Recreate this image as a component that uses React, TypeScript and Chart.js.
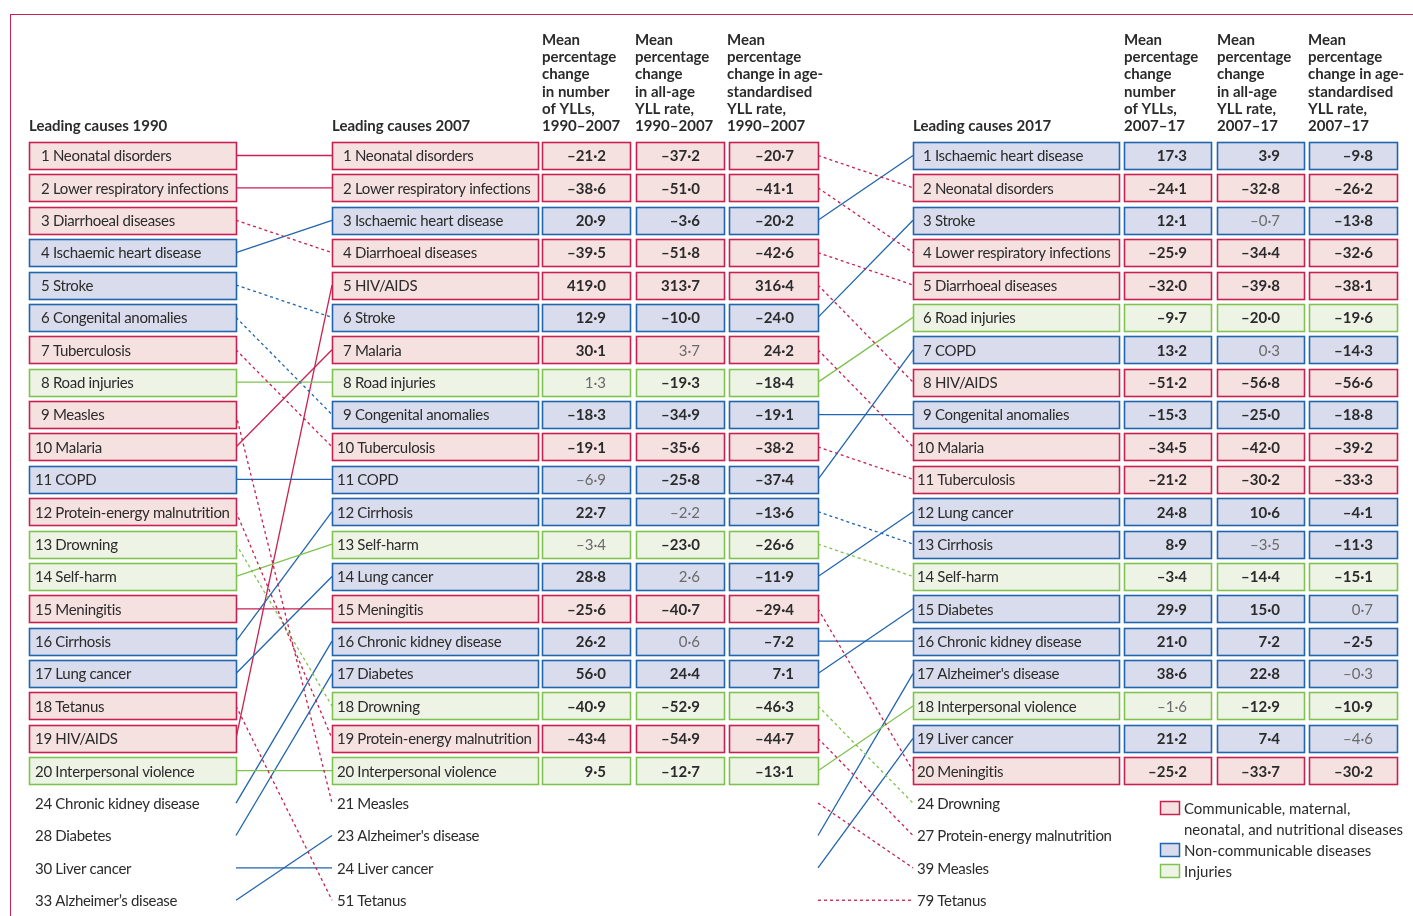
import React, { useEffect, useRef } from 'react';
import { Chart, registerables } from 'chart.js';
Chart.register(...registerables);

type Cat = 'C' | 'N' | 'I';

// ---------------- DATA ----------------
const causes1990 = [
  'Neonatal disorders', 'Lower respiratory infections', 'Diarrhoeal diseases', 'Ischaemic heart disease',
  'Stroke', 'Congenital anomalies', 'Tuberculosis', 'Road injuries', 'Measles', 'Malaria', 'COPD',
  'Protein-energy malnutrition', 'Drowning', 'Self-harm', 'Meningitis', 'Cirrhosis', 'Lung cancer',
  'Tetanus', 'HIV/AIDS', 'Interpersonal violence', 'Chronic kidney disease', 'Diabetes', 'Liver cancer',
  'Alzheimer’s disease',
];
const ranks1990 = [1, 2, 3, 4, 5, 6, 7, 8, 9, 10, 11, 12, 13, 14, 15, 16, 17, 18, 19, 20, 24, 28, 30, 33];
const cats1990: Cat[] = ['C', 'C', 'C', 'N', 'N', 'N', 'C', 'I', 'C', 'C', 'N', 'C', 'I', 'I', 'C', 'N', 'N', 'C', 'C', 'I', 'N', 'N', 'N', 'N'];
// position (row) in the 2007 list that each 1990 cause moves to
const links1990to2007 = [1, 2, 4, 3, 6, 9, 10, 8, 21, 7, 11, 19, 18, 13, 15, 12, 14, 24, 5, 20, 16, 17, 23, 22];

const causes2007 = [
  'Neonatal disorders', 'Lower respiratory infections', 'Ischaemic heart disease', 'Diarrhoeal diseases',
  'HIV/AIDS', 'Stroke', 'Malaria', 'Road injuries', 'Congenital anomalies', 'Tuberculosis', 'COPD',
  'Cirrhosis', 'Self-harm', 'Lung cancer', 'Meningitis', 'Chronic kidney disease', 'Diabetes', 'Drowning',
  'Protein-energy malnutrition', 'Interpersonal violence', 'Measles', "Alzheimer's disease", 'Liver cancer',
  'Tetanus',
];
const ranks2007 = [1, 2, 3, 4, 5, 6, 7, 8, 9, 10, 11, 12, 13, 14, 15, 16, 17, 18, 19, 20, 21, 23, 24, 51];
const cats2007: Cat[] = ['C', 'C', 'N', 'C', 'C', 'N', 'C', 'I', 'N', 'C', 'N', 'N', 'I', 'N', 'C', 'N', 'N', 'I', 'C', 'I', 'C', 'N', 'N', 'C'];
const links2007to2017 = [2, 4, 1, 5, 8, 3, 10, 6, 9, 11, 7, 13, 14, 12, 20, 16, 15, 21, 22, 18, 23, 17, 19, 24];

const ylls1990to2007 = [-21.2, -38.6, 20.9, -39.5, 419.0, 12.9, 30.1, 1.3, -18.3, -19.1, -6.9, 22.7, -3.4, 28.8, -25.6, 26.2, 56.0, -40.9, -43.4, 9.5];
const allAge1990to2007 = [-37.2, -51.0, -3.6, -51.8, 313.7, -10.0, 3.7, -19.3, -34.9, -35.6, -25.8, -2.2, -23.0, 2.6, -40.7, 0.6, 24.4, -52.9, -54.9, -12.7];
const ageStd1990to2007 = [-20.7, -41.1, -20.2, -42.6, 316.4, -24.0, 24.2, -18.4, -19.1, -38.2, -37.4, -13.6, -26.6, -11.9, -29.4, -7.2, 7.1, -46.3, -44.7, -13.1];
const sigYlls1990to2007 = [1, 1, 1, 1, 1, 1, 1, 0, 1, 1, 0, 1, 0, 1, 1, 1, 1, 1, 1, 1];
const sigAllAge1990to2007 = [1, 1, 1, 1, 1, 1, 0, 1, 1, 1, 1, 0, 1, 0, 1, 0, 1, 1, 1, 1];
const sigAgeStd1990to2007 = [1, 1, 1, 1, 1, 1, 1, 1, 1, 1, 1, 1, 1, 1, 1, 1, 1, 1, 1, 1];

const causes2017 = [
  'Ischaemic heart disease', 'Neonatal disorders', 'Stroke', 'Lower respiratory infections',
  'Diarrhoeal diseases', 'Road injuries', 'COPD', 'HIV/AIDS', 'Congenital anomalies', 'Malaria',
  'Tuberculosis', 'Lung cancer', 'Cirrhosis', 'Self-harm', 'Diabetes', 'Chronic kidney disease',
  "Alzheimer's disease", 'Interpersonal violence', 'Liver cancer', 'Meningitis', 'Drowning',
  'Protein-energy malnutrition', 'Measles', 'Tetanus',
];
const ranks2017 = [1, 2, 3, 4, 5, 6, 7, 8, 9, 10, 11, 12, 13, 14, 15, 16, 17, 18, 19, 20, 24, 27, 39, 79];
const cats2017: Cat[] = ['N', 'C', 'N', 'C', 'C', 'I', 'N', 'C', 'N', 'C', 'C', 'N', 'N', 'I', 'N', 'N', 'N', 'I', 'N', 'C', 'I', 'C', 'C', 'C'];

const ylls2007to2017 = [17.3, -24.1, 12.1, -25.9, -32.0, -9.7, 13.2, -51.2, -15.3, -34.5, -21.2, 24.8, 8.9, -3.4, 29.9, 21.0, 38.6, -1.6, 21.2, -25.2];
const allAge2007to2017 = [3.9, -32.8, -0.7, -34.4, -39.8, -20.0, 0.3, -56.8, -25.0, -42.0, -30.2, 10.6, -3.5, -14.4, 15.0, 7.2, 22.8, -12.9, 7.4, -33.7];
const ageStd2007to2017 = [-9.8, -26.2, -13.8, -32.6, -38.1, -19.6, -14.3, -56.6, -18.8, -39.2, -33.3, -4.1, -11.3, -15.1, 0.7, -2.5, -0.3, -10.9, -4.6, -30.2];
const sigYlls2007to2017 = [1, 1, 1, 1, 1, 1, 1, 1, 1, 1, 1, 1, 1, 1, 1, 1, 1, 0, 1, 1];
const sigAllAge2007to2017 = [1, 1, 0, 1, 1, 1, 0, 1, 1, 1, 1, 1, 0, 1, 1, 1, 1, 1, 1, 1];
const sigAgeStd2007to2017 = [1, 1, 1, 1, 1, 1, 1, 1, 1, 1, 1, 1, 1, 1, 0, 1, 0, 1, 0, 1];

const headerLeft1990 = 'Leading causes 1990';
const headerLeft2007 = 'Leading causes 2007';
const headerLeft2017 = 'Leading causes 2017';
const headers1990to2007 = [
  ['Mean', 'percentage', 'change', 'in number', 'of YLLs,', '1990–2007'],
  ['Mean', 'percentage', 'change', 'in all-age', 'YLL rate,', '1990–2007'],
  ['Mean', 'percentage', 'change in age-', 'standardised', 'YLL rate,', '1990–2007'],
];
const headers2007to2017 = [
  ['Mean', 'percentage', 'change', 'number', 'of YLLs,', '2007–17'],
  ['Mean', 'percentage', 'change', 'in all-age', 'YLL rate,', '2007–17'],
  ['Mean', 'percentage', 'change in age-', 'standardised', 'YLL rate,', '2007–17'],
];
const legendLabels = [
  ['Communicable, maternal,', 'neonatal, and nutritional diseases'],
  ['Non-communicable diseases'],
  ['Injuries'],
];
const legendCats: Cat[] = ['C', 'N', 'I'];

// ---------------- STYLE ----------------
const FONT = 'Lato, "Noto Sans", sans-serif';
const BORDER: Record<Cat, string> = { C: '#c8214f', N: '#2065ad', I: '#80c250' };
const FILL: Record<Cat, string> = { C: '#f6e1e1', N: '#d9dcec', I: '#edf4e6' };
const FRAME = '#c8214f';
const TEXT = '#2b2b2b';
const TEXT_NS = '#6a6a6a';

const W = 1413;
const H = 916;
const ROW1 = 155.5; // pixel centre of first row
const ROWH = 32.38; // pixel per row
const BOXH = 27;
const Y_MIN = 1 - ROW1 / ROWH;
const Y_MAX = Y_MIN + H / ROWH;

const colA = { left: 29, right: 236, pad: 6 };
const colB = { left: 332, right: 538, pad: 5 };
const colC = { left: 913, right: 1119, pad: 4 };
const numB = [[542, 630], [636, 724], [729, 818]];
const numC = [[1124, 1211], [1217, 1304], [1309, 1397]];
const hdrB = [542, 635, 727];
const hdrC = [1124, 1217, 1308];

function fmt(v: number) {
  return (v < 0 ? '–' : '') + Math.abs(v).toFixed(1).replace('.', '·');
}

function buildLinks() {
  const ds: any[] = [];
  causes1990.forEach((_, i) => {
    const to = links1990to2007[i];
    const down = ranks2007[to - 1] > ranks1990[i];
    ds.push({
      data: [{ x: colA.right, y: i + 1 }, { x: colB.left, y: to }],
      borderColor: BORDER[cats1990[i]],
      borderWidth: 1.3,
      borderDash: down ? [3, 3] : [],
      pointRadius: 0,
      fill: false,
    });
  });
  causes2007.forEach((_, i) => {
    const to = links2007to2017[i];
    const down = ranks2017[to - 1] > ranks2007[i];
    ds.push({
      data: [{ x: numB[2][1], y: i + 1 }, { x: colC.left, y: to }],
      borderColor: BORDER[cats2007[i]],
      borderWidth: 1.3,
      borderDash: down ? [3, 3] : [],
      pointRadius: 0,
      fill: false,
    });
  });
  return ds;
}

const tablePlugin = {
  id: 'rankTable',
  afterDatasetsDraw(chart: any) {
    const ctx: any = chart.ctx;
    const xs = chart.scales.x;
    const ys = chart.scales.y;
    const px = (v: number) => xs.getPixelForValue(v);
    const py = (v: number) => ys.getPixelForValue(v);
    ctx.save();

    // frame
    ctx.strokeStyle = FRAME;
    ctx.lineWidth = 1;
    ctx.strokeRect(10.5, 14.5, W + 20, H + 20);

    const box = (l: number, r: number, yc: number, cat: Cat) => {
      const x0 = Math.round(px(l)) + 0.5;
      const x1 = Math.round(px(r)) + 0.5;
      const y0 = Math.round(yc - BOXH / 2) + 0.5;
      ctx.fillStyle = FILL[cat];
      ctx.fillRect(x0, y0, x1 - x0, BOXH);
      ctx.strokeStyle = BORDER[cat];
      ctx.lineWidth = 1.6;
      ctx.strokeRect(x0, y0, x1 - x0, BOXH);
    };

    const label = (col: { left: number; pad: number }, yc: number, rank: number, name: string) => {
      ctx.font = `15px ${FONT}`;
      ctx.letterSpacing = '-0.3px';
      ctx.fillStyle = TEXT;
      ctx.textBaseline = 'middle';
      ctx.textAlign = 'left';
      const sx = px(col.left) + col.pad + (rank >= 10 ? 0 : 6);
      ctx.fillText(`${rank} ${name}`, sx, yc + 1);
      ctx.letterSpacing = '0px';
    };

    const num = (r: number, yc: number, v: number, sig: number) => {
      ctx.font = sig ? `bold 15px ${FONT}` : `15px ${FONT}`;
      ctx.fillStyle = sig ? TEXT : TEXT_NS;
      ctx.textBaseline = 'middle';
      ctx.textAlign = 'right';
      ctx.fillText(fmt(v), px(r) - 24, yc + 1);
    };

    // 1990 list
    causes1990.forEach((name, i) => {
      const yc = py(i + 1);
      if (ranks1990[i] <= 20) box(colA.left, colA.right, yc, cats1990[i]);
      label(colA, yc, ranks1990[i], name);
    });

    // 2007 list
    const colsB = [ylls1990to2007, allAge1990to2007, ageStd1990to2007];
    const sigB = [sigYlls1990to2007, sigAllAge1990to2007, sigAgeStd1990to2007];
    causes2007.forEach((name, i) => {
      const yc = py(i + 1);
      if (ranks2007[i] <= 20) {
        box(colB.left, colB.right, yc, cats2007[i]);
        numB.forEach(([l, r], k) => {
          box(l, r, yc, cats2007[i]);
          num(r, yc, colsB[k][i], sigB[k][i]);
        });
      }
      label(colB, yc, ranks2007[i], name);
    });

    // 2017 list
    const colsC = [ylls2007to2017, allAge2007to2017, ageStd2007to2017];
    const sigC = [sigYlls2007to2017, sigAllAge2007to2017, sigAgeStd2007to2017];
    causes2017.forEach((name, i) => {
      const yc = py(i + 1);
      if (ranks2017[i] <= 20) {
        box(colC.left, colC.right, yc, cats2017[i]);
        numC.forEach(([l, r], k) => {
          box(l, r, yc, cats2017[i]);
          num(r, yc, colsC[k][i], sigC[k][i]);
        });
      }
      label(colC, yc, ranks2017[i], name);
    });

    // headers
    const hBase = py(1) - 24.5;
    ctx.font = `bold 15px ${FONT}`;
    ctx.fillStyle = TEXT;
    ctx.textAlign = 'left';
    ctx.textBaseline = 'alphabetic';
    ctx.fillText(headerLeft1990, px(colA.left), hBase);
    ctx.fillText(headerLeft2007, px(colB.left), hBase);
    ctx.fillText(headerLeft2017, px(colC.left), hBase);
    const lh = 17.2;
    headers1990to2007.forEach((lines, k) => {
      lines.forEach((t, j) => ctx.fillText(t, px(hdrB[k]), hBase - (lines.length - 1 - j) * lh));
    });
    headers2007to2017.forEach((lines, k) => {
      lines.forEach((t, j) => ctx.fillText(t, px(hdrC[k]), hBase - (lines.length - 1 - j) * lh));
    });

    // legend
    ctx.font = `15px ${FONT}`;
    ctx.textBaseline = 'middle';
    let ly = 808;
    legendLabels.forEach((lines, k) => {
      const cat = legendCats[k];
      ctx.fillStyle = FILL[cat];
      ctx.fillRect(1160.5, ly - 6.5, 19, 13);
      ctx.strokeStyle = BORDER[cat];
      ctx.lineWidth = 1.5;
      ctx.strokeRect(1160.5, ly - 6.5, 19, 13);
      ctx.fillStyle = TEXT;
      lines.forEach((t) => {
        ctx.fillText(t, 1184, ly + 1);
        ly += 21;
      });
    });

    ctx.restore();
  },
};

export default function App() {
  const ref = useRef<HTMLCanvasElement | null>(null);
  useEffect(() => {
    if (!ref.current) return;
    const chart = new Chart(ref.current, {
      type: 'line',
      data: { datasets: buildLinks() },
      options: {
        responsive: false,
        maintainAspectRatio: false,
        animation: false,
        events: [],
        layout: { padding: 0 },
        plugins: { legend: { display: false }, tooltip: { enabled: false } },
        scales: {
          x: { type: 'linear', min: 0, max: W, display: false },
          y: { type: 'linear', min: Y_MIN, max: Y_MAX, reverse: true, display: false },
        },
        elements: { line: { tension: 0 }, point: { radius: 0 } },
      },
      plugins: [tablePlugin],
    } as any);
    return () => chart.destroy();
  }, []);
  return (
    <div style={{ position: 'absolute', left: 0, top: 0, width: W, height: H, background: '#fff' }}>
      <canvas ref={ref} width={W} height={H} style={{ display: 'block' }} />
    </div>
  );
}
